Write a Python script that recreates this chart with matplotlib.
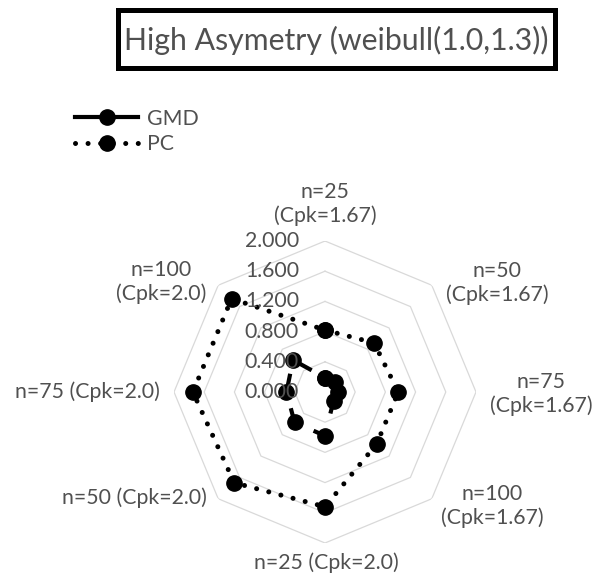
import numpy as np
import matplotlib.pyplot as plt
from matplotlib.lines import Line2D
from matplotlib.patches import Rectangle

plt.rcParams['font.family'] = ['Lato', 'DejaVu Sans']

# Radar categories, clockwise from the top
categories = ["n=25\n(Cpk=1.67)", "n=50\n(Cpk=1.67)", "n=75\n(Cpk=1.67)",
              "n=100\n(Cpk=1.67)", "n=25 (Cpk=2.0)", "n=50 (Cpk=2.0)",
              "n=75 (Cpk=2.0)", "n=100\n(Cpk=2.0)"]
gmd = [0.19, 0.18, 0.17, 0.16, 0.58, 0.57, 0.51, 0.60]
pc = [0.82, 0.92, 0.97, 0.97, 1.52, 1.70, 1.75, 1.75]
r_ticks = [0.0, 0.4, 0.8, 1.2, 1.6, 2.0]

GREY = "#505050"
FS = 15.3
W, H = 603, 577

fig = plt.figure(figsize=(W / 100, H / 100), dpi=100)

# radar centred at (325, 392) px with a 151 px outer radius
cx, cy, rad = 325, 392, 151
ax = fig.add_axes([(cx - rad) / W, (H - cy - rad) / H, 2 * rad / W, 2 * rad / H],
                  projection="polar")
ax.set_theta_offset(np.pi / 2)
ax.set_theta_direction(-1)
ax.set_ylim(0, 2.0)
ax.grid(False)
ax.spines["polar"].set_visible(False)
ax.set_xticks([])
ax.set_yticks([])
ax.patch.set_alpha(0)

n = len(categories)
theta = np.arange(n) * 2 * np.pi / n
theta_c = np.append(theta, theta[0])

# octagon gridlines
for r in r_ticks[1:]:
    ax.plot(theta_c, [r] * (n + 1), color="#d9d9d9", lw=0.9, zorder=1)

ax.plot(theta_c, pc + pc[:1], color="black", lw=3.6,
        linestyle=(0, (0.01, 2.5)), dash_capstyle="round",
        marker="o", markersize=11, zorder=3)
ax.plot(theta_c, gmd + gmd[:1], color="black", lw=3.0,
        linestyle=(2, (4, 4.5)), marker="o", markersize=11, zorder=3)

for r in r_ticks:
    ax.annotate(f"{r:.3f}", xy=(0, r), xytext=(-26, 0), textcoords="offset pixels",
                ha="right", va="center", color=GREY, fontsize=FS, zorder=5,
                annotation_clip=False)

# category label anchors in pixels
label_pos = [(325, 204), (497, 283), (541, 394), (492, 506),
             (326, 563), (134, 498), (87, 392), (161, 282)]
for text, (x, y) in zip(categories, label_pos):
    fig.text(x / W, 1 - y / H, text, ha="center", va="center", color=GREY,
             fontsize=FS, linespacing=1.25, multialignment="center")

# title in a framed box
fig.patches.append(Rectangle((118 / W, 1 - 68 / H), 437 / W, 58 / H,
                             transform=fig.transFigure, fill=False,
                             edgecolor="black", lw=3.6))
fig.text(336 / W, 1 - 40 / H, "High Asymetry (weibull(1.0,1.3))",
         ha="center", va="center", color=GREY, fontsize=21.8)

handles = [Line2D([], [], color="black", lw=3.0, marker="o", markersize=11),
           Line2D([], [], color="black", lw=3.6, linestyle=(0, (0.01, 2.5)),
                  dash_capstyle="round", marker="o", markersize=11)]
fig.legend(handles, ["GMD", "PC"], loc="upper left",
           bbox_to_anchor=(64 / W, 1 - 98 / H), frameon=False,
           handlelength=3.0, labelcolor=GREY, fontsize=FS,
           borderpad=0, labelspacing=0.25, handletextpad=0.4)

fig.savefig("out.png", dpi=100)
